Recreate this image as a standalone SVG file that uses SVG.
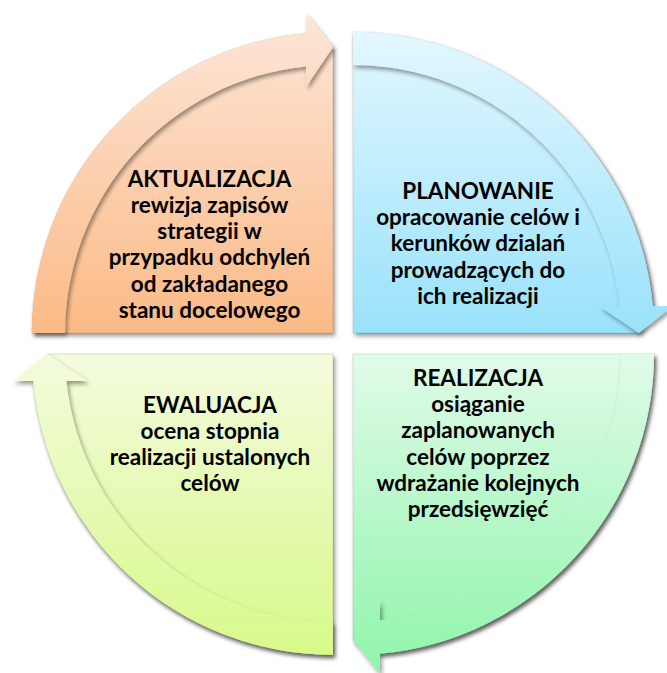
<svg xmlns="http://www.w3.org/2000/svg" width="667" height="673" viewBox="0 0 667 673">
<style>
text{font-family:Lato,"Liberation Sans",sans-serif;font-weight:bold;font-size:22.5px;fill:#000;text-anchor:middle}
.pie{filter:url(#sh);stroke:#000;stroke-opacity:0.12;stroke-width:0.8}
.band{filter:url(#sh)}
</style>
<defs>
<filter id="sh" x="-10%" y="-10%" width="125%" height="125%">
<feDropShadow dx="2" dy="3" stdDeviation="2" flood-color="#000" flood-opacity="0.4"/>
</filter>
<linearGradient id="gO" gradientUnits="userSpaceOnUse" x1="0" y1="13" x2="0" y2="333">
<stop offset="0" stop-color="#fde6d8"/><stop offset="1" stop-color="#fbba86"/>
</linearGradient>
<linearGradient id="gB" gradientUnits="userSpaceOnUse" x1="0" y1="32" x2="0" y2="333">
<stop offset="0" stop-color="#e3f7fe"/><stop offset="1" stop-color="#99e2fb"/>
</linearGradient>
<linearGradient id="gG" gradientUnits="userSpaceOnUse" x1="0" y1="354" x2="0" y2="673">
<stop offset="0" stop-color="#e0fbe8"/><stop offset="1" stop-color="#8ff5ab"/>
</linearGradient>
<linearGradient id="gY" gradientUnits="userSpaceOnUse" x1="0" y1="354" x2="0" y2="655">
<stop offset="0" stop-color="#f3fbdc"/><stop offset="1" stop-color="#d8f98a"/>
</linearGradient>
</defs>

<g id="aktualizacja">
<path class="pie" fill="url(#gO)" d="M333,333 L32,333 A301,301 0 0 1 306,33.2 L333,47 Z"/>
<text x="209.5" y="186.5">AKTUALIZACJA</text>
<text x="209.5" y="212.8">rewizja zapisów</text>
<text x="209.5" y="239.1">strategii w</text>
<text x="209.5" y="265.4">przypadku odchyleń</text>
<text x="209.5" y="291.7">od zakładanego</text>
<text x="209.5" y="318">stanu docelowego</text>
</g>

<g id="planowanie">
<path class="pie" fill="url(#gB)" d="M353,333 L353,32 A301,301 0 0 1 652.8,306 L639,333 Z"/>
<text x="478" y="199">PLANOWANIE</text>
<text x="478" y="225.2">opracowanie celów i</text>
<text x="478" y="251.4">kerunków dzialań</text>
<text x="478" y="277.6">prowadzących do</text>
<text x="478" y="303.8">ich realizacji</text>
</g>

<g id="realizacja">
<path class="pie" fill="url(#gG)" d="M353,354 L654,354 A301,301 0 0 1 380,653.8 L353,640 Z"/>
<text x="478" y="386">REALIZACJA</text>
<text x="478" y="412.2">osiąganie</text>
<text x="478" y="438.4">zaplanowanych</text>
<text x="478" y="464.6">celów poprzez</text>
<text x="478" y="490.8">wdrażanie kolejnych</text>
<text x="478" y="517">przedsięwzięć</text>
</g>

<g id="ewaluacja">
<path class="pie" fill="url(#gY)" d="M333,354 L333,655 A301,301 0 0 1 33.2,381 L47,354 Z"/>
<text x="210" y="412.7">EWALUACJA</text>
<text x="210" y="438.7">ocena stopnia</text>
<text x="210" y="464.9">realizacji ustalonych</text>
<text x="210" y="491">celów</text>
</g>

<g id="connectors">
<path class="band" fill="url(#gO)" d="M32,333 A301,301 0 0 1 306,33.2 L306,13 L333,47 L306,87 L306,66.4 A268,268 0 0 0 65,333 Z"/>
<path class="band" fill="url(#gB)" d="M353,32 A301,301 0 0 1 652.8,306 L673,306 L639,333 L599,306 L619.6,306 A268,268 0 0 0 353,65 Z"/>
<path class="band" fill="url(#gG)" d="M654,354 A301,301 0 0 1 380,653.8 L380,674 L353,640 L380,600 L380,620.6 A268,268 0 0 0 621,354 Z"/>
<path class="band" fill="url(#gY)" d="M333,655 A301,301 0 0 1 33.2,381 L13,381 L47,354 L87,381 L66.4,381 A268,268 0 0 0 333,622 Z"/>
</g>
</svg>
